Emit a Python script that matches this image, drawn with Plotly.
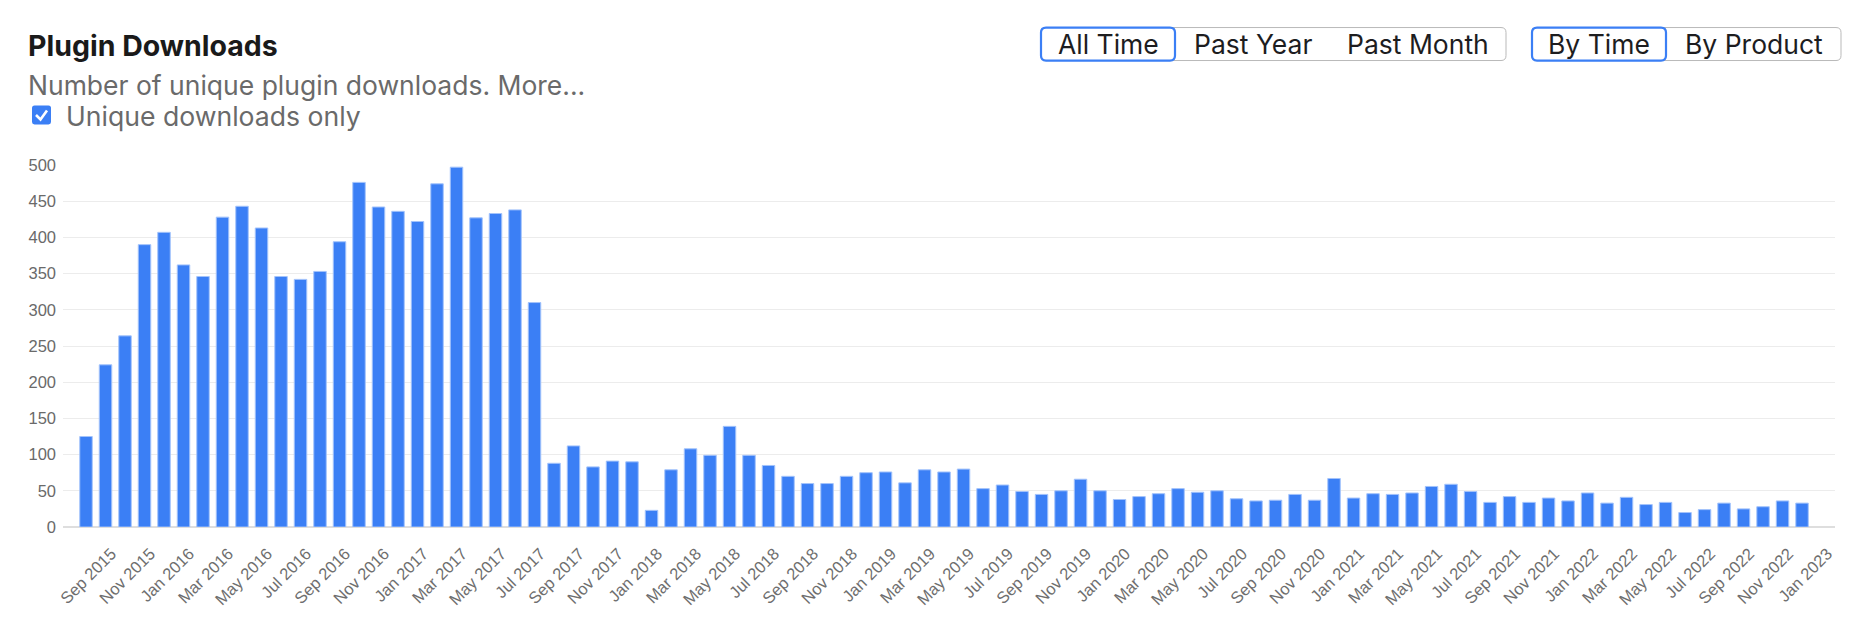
import plotly.graph_objects as go

# ---------------- data ----------------
months = []
_m = ["Jan", "Feb", "Mar", "Apr", "May", "Jun", "Jul", "Aug", "Sep", "Oct", "Nov", "Dec"]
for y in range(2015, 2024):
    for mi, mn in enumerate(_m):
        if (y == 2015 and mi < 8) or (y == 2023 and mi > 0):
            continue
        months.append(f"{mn} {y}")

downloads = [
    125, 224, 264, 390, 407, 362, 346, 428, 443, 413, 346, 342,
    353, 394, 476, 442, 436, 422, 474, 497, 427, 433, 438, 310,
    88, 112, 83, 91, 90, 23, 79, 108, 99, 139, 99, 85,
    70, 60, 60, 70, 75, 76, 61, 79, 76, 80, 53, 58,
    49, 45, 50, 66, 50, 38, 42, 46, 53, 48, 50, 39,
    36, 37, 45, 37, 67, 40, 46, 45, 47, 56, 59, 49,
    34, 42, 34, 40, 36, 47, 33, 41, 31, 34, 20, 24,
    33, 25, 28, 36, 33,
]

y_ticks = [0, 50, 100, 150, 200, 250, 300, 350, 400, 450, 500]
tick_labels = months[::2]

# ---------------- layout geometry (pixels in the screenshot) ----------------
OFF = 8  # default page body margin
W_PX, H_PX = 1864 - 2 * OFF, 640 - 2 * OFF
L, R, T, B = 63 - OFF, 1835 - OFF, 164.5 - OFF, 526.6 - OFF
PW, PH = R - L, B - T


def px(x):
    return (x - OFF - L) / PW


def py(y):
    return (B - (y - OFF)) / PH


def rrect(x0, y0, x1, y1, r):
    pts = [
        f"M {px(x0 + r)} {py(y0)}",
        f"L {px(x1 - r)} {py(y0)}",
        f"Q {px(x1)} {py(y0)} {px(x1)} {py(y0 + r)}",
        f"L {px(x1)} {py(y1 - r)}",
        f"Q {px(x1)} {py(y1)} {px(x1 - r)} {py(y1)}",
        f"L {px(x0 + r)} {py(y1)}",
        f"Q {px(x0)} {py(y1)} {px(x0)} {py(y1 - r)}",
        f"L {px(x0)} {py(y0 + r)}",
        f"Q {px(x0)} {py(y0)} {px(x0 + r)} {py(y0)}",
        "Z",
    ]
    return " ".join(pts)


BLUE = "#3b7ff5"
idx = list(range(len(months)))
n = len(months)

fig = go.Figure(
    go.Bar(
        x=idx,
        y=downloads,
        width=0.64,
        marker=dict(color=BLUE, line=dict(color="#a3c3fb", width=1)),
        hovertext=months,
    )
)

TICK_OFF = 1.3
fig.update_xaxes(
    range=[-1.18, (n - 1) + 1.69],
    tickmode="array",
    tickvals=[i + TICK_OFF for i in idx[::2]],
    ticktext=tick_labels,
    tickangle=-45,
    tickfont=dict(family="Liberation Sans", size=16.5, color="#6e6e6e"),
    showgrid=False,
    zeroline=False,
    showline=False,
    ticks="",
    ticklabelstandoff=13,
)
fig.update_yaxes(
    range=[0, 500],
    tickmode="array",
    tickvals=y_ticks,
    tickfont=dict(family="Liberation Sans", size=16.5, color="#6a6a6a"),
    showgrid=True,
    gridcolor="#ececec",
    gridwidth=1,
    zeroline=True,
    zerolinecolor="#dedede",
    zerolinewidth=2,
    ticks="",
    ticklabelstandoff=6,
)

shapes = []
annotations = []

# title block
annotations.append(dict(text="<b>Plugin Downloads</b>", x=px(26), y=py(45), xanchor="left", yanchor="middle",
                        font=dict(family="Inter", size=28.5, color="#1a1a1a")))
annotations.append(dict(text="Number of unique plugin downloads. More...", x=px(26), y=py(84), xanchor="left",
                        yanchor="middle", font=dict(family="Inter", size=26.5, color="#6a6a6a")))
annotations.append(dict(text="Unique downloads only", x=px(64), y=py(115), xanchor="left", yanchor="middle",
                        font=dict(family="Inter", size=26.6, color="#6a6a6a")))

# checkbox
shapes.append(dict(type="path", xref="paper", yref="paper", path=rrect(32, 105, 51, 124, 2.5),
                   fillcolor=BLUE, line=dict(width=0)))
shapes.append(dict(type="path", xref="paper", yref="paper",
                   path=f"M {px(36)} {py(114.5)} L {px(40.5)} {py(119)} L {px(47)} {py(110)}",
                   line=dict(color="white", width=2.6)))

# button groups
GREY_BORDER = "#b9b9b9"
shapes.append(dict(type="path", xref="paper", yref="paper", path=rrect(1041, 27, 1506, 60, 5),
                   fillcolor="white", line=dict(color=GREY_BORDER, width=1)))
shapes.append(dict(type="path", xref="paper", yref="paper", path=rrect(1041, 27, 1175, 60, 5),
                   fillcolor="rgba(0,0,0,0)", line=dict(color=BLUE, width=2.2)))
shapes.append(dict(type="path", xref="paper", yref="paper", path=rrect(1532, 27, 1841, 60, 5),
                   fillcolor="white", line=dict(color=GREY_BORDER, width=1)))
shapes.append(dict(type="path", xref="paper", yref="paper", path=rrect(1532, 27, 1666, 60, 5),
                   fillcolor="rgba(0,0,0,0)", line=dict(color=BLUE, width=2.2)))

btn_labels = ["All Time", "Past Year", "Past Month", "By Time", "By Product"]
btn_centers = [1108, 1253, 1418, 1599, 1754]
for lab, cx in zip(btn_labels, btn_centers):
    annotations.append(dict(text=lab, x=px(cx), y=py(43.5), xanchor="center", yanchor="middle",
                            font=dict(family="Inter", size=26.5, color="#1d1d1f")))

for a in annotations:
    a.update(xref="paper", yref="paper", showarrow=False)

fig.update_layout(
    width=W_PX,
    height=H_PX,
    margin=dict(l=L, r=W_PX - R, t=T, b=H_PX - B, pad=0),
    paper_bgcolor="white",
    plot_bgcolor="white",
    showlegend=False,
    shapes=shapes,
    annotations=annotations,
)

fig.write_html("out.html")
